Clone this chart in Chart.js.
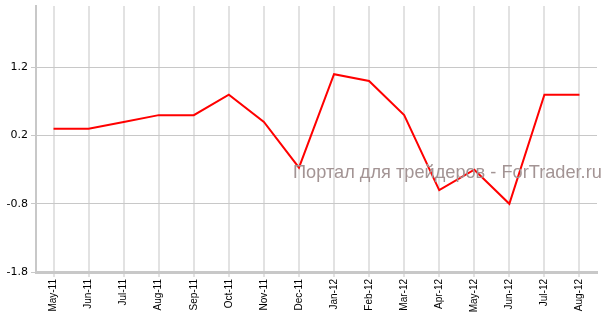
<!DOCTYPE html>
<html>
<head>
<meta charset="utf-8">
<script src="https://cdn.jsdelivr.net/npm/chart.js@4"></script>
<style>
  html, body { margin: 0; padding: 0; background: #fff; }
  #wrap { width: 609px; height: 322px; }
</style>
</head>
<body>
<div id="wrap"><canvas id="grafico"></canvas></div>
<script>
// Dados
const meses = ['May-11', 'Jun-11', 'Jul-11', 'Aug-11', 'Sep-11', 'Oct-11', 'Nov-11', 'Dec-11',
               'Jan-12', 'Feb-12', 'Mar-12', 'Apr-12', 'May-12', 'Jun-12', 'Jul-12', 'Aug-12'];
const valores = [0.3, 0.3, 0.4, 0.5, 0.5, 0.8, 0.4, -0.27, 1.1, 1.0, 0.5, -0.6, -0.3, -0.8, 0.8, 0.8];
const ticksY = [-1.8, -0.8, 0.2, 1.2];
const marcaDagua = 'Портал для трейдеров - ForTrader.ru';

// Texto de marca d'água por cima do gráfico
const watermark = {
    id: 'watermark',
    afterDatasetsDraw(chart) {
        const c = chart.ctx;
        c.save();
        c.font = '17px "Liberation Sans", Arial, sans-serif';
        const w = c.measureText(marcaDagua).width;
        const escala = 309 / w;
        c.font = (17 * escala).toFixed(2) + 'px "Liberation Sans", Arial, sans-serif';
        c.fillStyle = '#a39494';
        c.textBaseline = 'alphabetic';
        c.fillText(marcaDagua, 293, 178);
        c.restore();
    }
};

new Chart(document.getElementById('grafico').getContext('2d'), {
    type: 'line',
    data: {
        labels: meses,
        datasets: [{
            data: valores,
            borderColor: '#ff0000',
            borderWidth: 2,
            pointRadius: 0,
            tension: 0,
            fill: false
        }]
    },
    options: {
        responsive: true,
        maintainAspectRatio: false,
        animation: false,
        layout: { padding: { top: 6, right: 12, left: 0, bottom: 0 } },
        plugins: {
            legend: { display: false },
            tooltip: { enabled: false }
        },
        scales: {
            x: {
                offset: true,
                afterFit(scale) { scale.height = 50; },
                grid: {
                    color: '#e2e2e2',
                    lineWidth: 2,
                    tickLength: 5,
                    offset: false
                },
                border: { color: '#c8c8c8', width: 3 },
                ticks: {
                    minRotation: 90,
                    maxRotation: 90,
                    autoSkip: false,
                    padding: 2,
                    color: '#000',
                    font: { family: '"Liberation Sans", Arial, sans-serif', size: 10 }
                }
            },
            y: {
                min: -1.8,
                max: 2.1,
                afterFit(scale) {
                    scale.width = 36;
                    scale.paddingTop = 0;
                    scale.paddingBottom = 0;
                },
                afterBuildTicks(scale) { scale.ticks = ticksY.map(v => ({ value: v })); },
                grid: {
                    color: '#c8c8c8',
                    lineWidth: 1,
                    tickLength: 5
                },
                border: { color: '#c8c8c8', width: 2 },
                ticks: {
                    padding: 3,
                    color: '#000',
                    font: { family: '"DejaVu Sans", Verdana, sans-serif', size: 11 },
                    callback: v => Number(v).toFixed(1)
                }
            }
        }
    },
    plugins: [watermark]
});
</script>
</body>
</html>
